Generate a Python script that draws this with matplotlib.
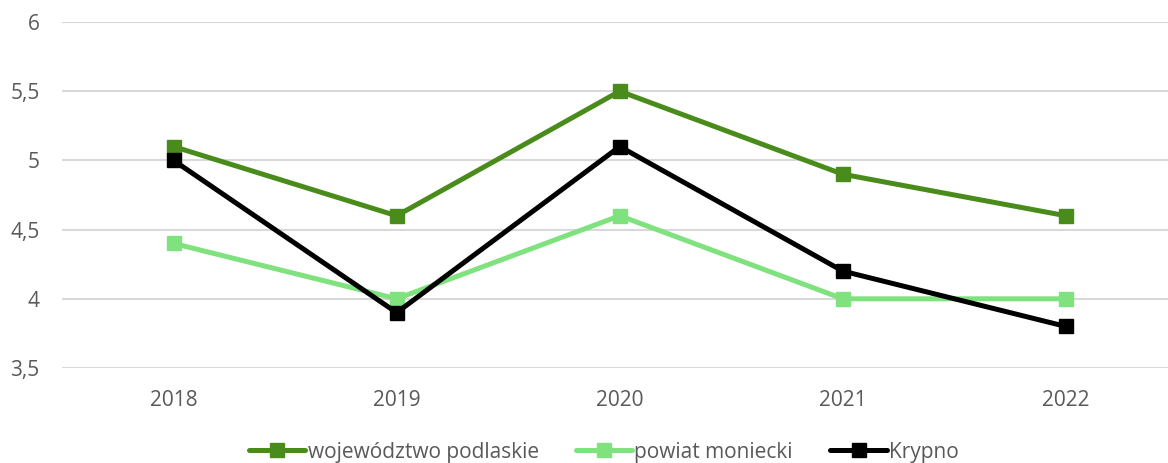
import matplotlib
matplotlib.use("Agg")
import matplotlib.pyplot as plt
from matplotlib.ticker import FuncFormatter

years = ["2018", "2019", "2020", "2021", "2022"]
wojewodztwo = [5.1, 4.6, 5.5, 4.9, 4.6]
powiat = [4.4, 4.0, 4.6, 4.0, 4.0]
krypno = [5.0, 3.9, 5.1, 4.2, 3.8]

series_names = ["województwo podlaskie", "powiat moniecki", "Krypno"]
colors = ["#4A8C1C", "#7FE27F", "#000000"]

plt.rcParams['font.family'] = ['Open Sans', 'DejaVu Sans']
fig = plt.figure(figsize=(11.68, 4.63), dpi=100)
W, H = 1168, 463
ax = fig.add_axes([62 / W, (H - 368) / H, (W - 62) / W, (368 - 22) / H])

x = list(range(len(years)))
for vals, name, c in zip([wojewodztwo, powiat, krypno], series_names, colors):
    ax.plot(x, vals, color=c, lw=3.6, marker="s", ms=10, label=name,
            solid_capstyle="round", solid_joinstyle="round")

ax.set_ylim(3.5, 6)
ax.set_yticks([3.5, 4, 4.5, 5, 5.5, 6])
ax.yaxis.set_major_formatter(FuncFormatter(lambda v, p: ("%g" % v).replace(".", ",")))
ax.set_xlim(-0.5, 4.5 - (1177.5 - 1168) / 223)
ax.set_xticks(x)
ax.set_xticklabels(years)
ax.grid(axis="y", color="#D9D9D9", lw=1.5)
ax.set_axisbelow(True)
for s in ax.spines.values():
    s.set_visible(False)
ax.tick_params(length=0, labelsize=15, colors="#595959")
ax.tick_params(axis="x", pad=16)
ax.tick_params(axis="y", pad=16)

leg = fig.legend(loc="lower center", bbox_to_anchor=(0.517, -0.04), ncol=3, frameon=False,
                 fontsize=15, handlelength=2.7, columnspacing=1.8, handletextpad=0.1)
for t in leg.get_texts():
    t.set_color("#595959")

fig.savefig("out.png", dpi=100)
